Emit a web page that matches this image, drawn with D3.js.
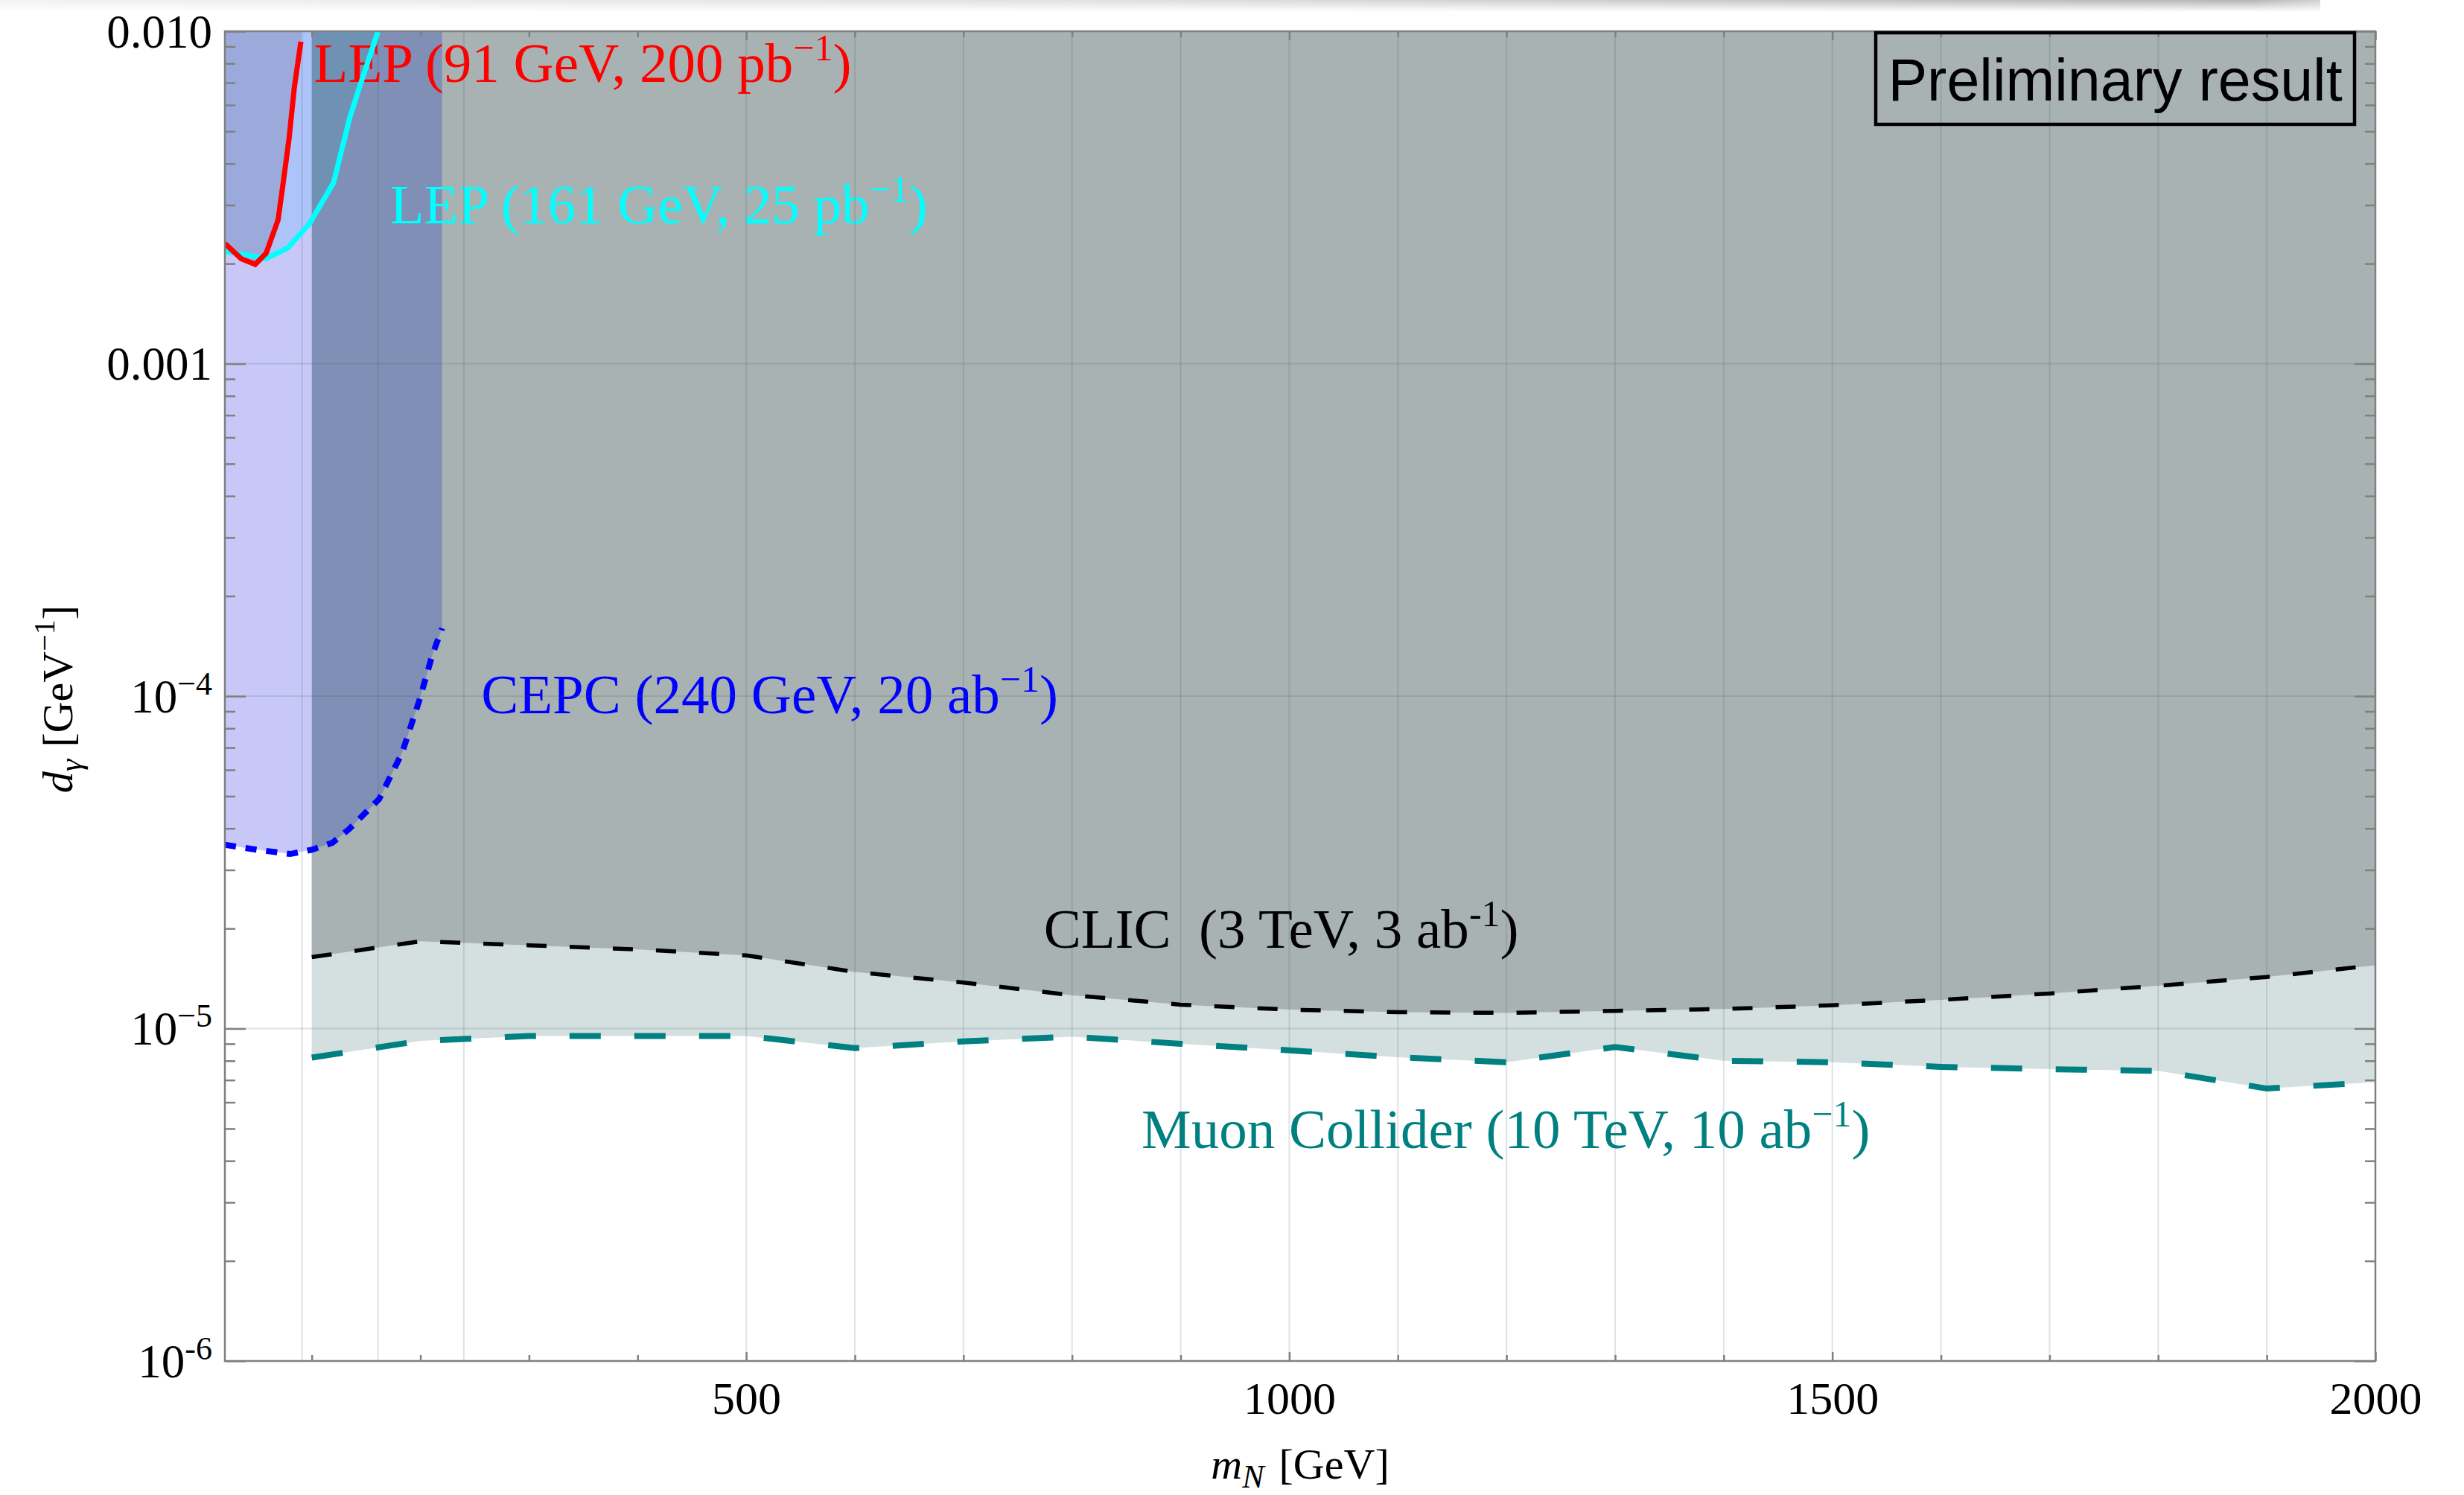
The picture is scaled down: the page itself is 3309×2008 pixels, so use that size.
<!DOCTYPE html>
<html><head><meta charset="utf-8">
<script src="https://cdn.jsdelivr.net/npm/d3@7"></script>
<style>
html,body{margin:0;padding:0;background:#fff;}
svg{display:block;}
</style></head><body>
<svg id="chart" width="3309" height="2008"></svg>
<script>
// ---------------- data ----------------
const lep91Mass  = [20, 35, 48, 58, 69, 73, 79, 84, 90];
const lep91Limit = [2.30e-3, 2.07e-3, 1.99e-3, 2.15e-3, 2.71e-3, 3.37e-3, 4.73e-3, 6.8e-3, 9.3e-3];

const lep161Mass  = [20, 58, 78, 98, 120, 135, 144, 161];
const lep161Limit = [2.18e-3, 2.07e-3, 2.23e-3, 2.64e-3, 3.5e-3, 5.5e-3, 6.8e-3, 1.0e-2];

const cepcMass  = [20, 50, 80, 100, 119, 134, 162, 183, 199, 211, 220];
const cepcLimit = [3.57e-5, 3.45e-5, 3.35e-5, 3.45e-5, 3.62e-5, 3.97e-5, 4.9e-5, 6.73e-5, 9.7e-5, 1.33e-4, 1.6e-4];

const highMass  = [100, 200, 300, 400, 500, 600, 700, 800, 900, 1000, 1100, 1200, 1300, 1400, 1500, 1600, 1700, 1800, 1900, 2000];
const clicLimit = [1.64e-5, 1.83e-5, 1.78e-5, 1.73e-5, 1.66e-5, 1.48e-5, 1.375e-5, 1.26e-5, 1.18e-5, 1.14e-5, 1.12e-5, 1.115e-5, 1.13e-5, 1.145e-5, 1.175e-5, 1.22e-5, 1.275e-5, 1.345e-5, 1.43e-5, 1.55e-5];
const muonLimit = [8.18e-6, 9.18e-6, 9.5e-6, 9.5e-6, 9.5e-6, 8.73e-6, 9.15e-6, 9.45e-6, 9.0e-6, 8.6e-6, 8.2e-6, 7.92e-6, 8.8e-6, 8.0e-6, 7.92e-6, 7.67e-6, 7.55e-6, 7.46e-6, 6.6e-6, 6.9e-6];

const xMajorTicks = [500, 1000, 1500, 2000];
const xMinorTicks = [100, 200, 300, 400, 600, 700, 800, 900, 1100, 1200, 1300, 1400, 1600, 1700, 1800, 1900];
const xGrid = [91, 161, 240, 500, 600, 700, 800, 900, 1000, 1100, 1200, 1300, 1400, 1500, 1600, 1700, 1800, 1900];
const yMajorTicks = [1e-2, 1e-3, 1e-4, 1e-5, 1e-6];
const yTickBase = ["0.010", "0.001", "10", "10", "10"];
const yTickExp  = ["", "", "\u22124", "\u22125", "-6"];
const yGrid = [1e-3, 1e-4, 1e-5];

const labelTexts = [
  {main: "LEP (91 GeV, 200 pb", sup: "\u22121", color: "#ff0000"},
  {main: "LEP (161 GeV, 25 pb", sup: "\u22121", color: "#00ffff"},
  {main: "CEPC (240 GeV, 20 ab", sup: "\u22121", color: "#0000ff"},
  {main: "CLIC  (3 TeV, 3 ab", sup: "-1", color: "#000000"},
  {main: "Muon Collider (10 TeV, 10 ab", sup: "\u22121", color: "#008080"}
];
// anchor positions (data coords) for the annotations
const labelAnchors = [[102, 7.04e-3], [172, 2.64e-3], [256, 8.88e-5], [774, 1.75e-5], [864, 4.37e-6]];

// ---------------- layout ----------------
const svg = d3.select("#chart");
const x = d3.scaleLinear().domain([20, 2000]).range([302, 3190]);
const y = d3.scaleLog().domain([1e-6, 1e-2]).range([1828, 42]);
const X0 = x.range()[0], X1 = x.range()[1], Y0 = y.range()[0], Y1 = y.range()[1];
const serif = "'Liberation Serif','Times New Roman',Times,serif";

const zip = (a, b) => a.map((v, i) => [v, b[i]]);
const lep91 = zip(lep91Mass, lep91Limit);
const lep161 = zip(lep161Mass, lep161Limit);
const cepc = zip(cepcMass, cepcLimit);
const clic = zip(highMass, clicLimit);
const muon = zip(highMass, muonLimit);

const defs = svg.append("defs");
// top screenshot shadow strip
const hg = defs.append("linearGradient").attr("id", "shadeH");
hg.append("stop").attr("offset", "0").attr("stop-color", "#f2f2f2");
hg.append("stop").attr("offset", "0.5").attr("stop-color", "#dedede");
hg.append("stop").attr("offset", "0.97").attr("stop-color", "#b4b4b4");
hg.append("stop").attr("offset", "1").attr("stop-color", "#d0d0d0");
const vg = defs.append("linearGradient").attr("id", "shadeV").attr("x1", 0).attr("y1", 0).attr("x2", 0).attr("y2", 1);
vg.append("stop").attr("offset", "0").attr("stop-color", "#fff");
vg.append("stop").attr("offset", "1").attr("stop-color", "#000");
defs.append("mask").attr("id", "shadeMask").append("rect").attr("x", 0).attr("y", 0).attr("width", 3309).attr("height", 16).attr("fill", "url(#shadeV)");
svg.append("rect").attr("x", 0).attr("y", 0).attr("width", 3116).attr("height", 16)
  .attr("fill", "url(#shadeH)").attr("mask", "url(#shadeMask)");

// clip paths split at m_N = 100 GeV
defs.append("clipPath").attr("id", "clipLeft").append("rect")
  .attr("x", X0).attr("y", Y1).attr("width", x(100) - X0).attr("height", Y0 - Y1);
defs.append("clipPath").attr("id", "clipRight").append("rect")
  .attr("x", x(100)).attr("y", Y1).attr("width", X1 - x(100)).attr("height", Y0 - Y1);
defs.append("clipPath").attr("id", "clipPlot").append("rect")
  .attr("x", X0).attr("y", Y1).attr("width", X1 - X0).attr("height", Y0 - Y1);

const areaTop = d3.area().x(d => x(d[0])).y0(Y1).y1(d => y(d[1]));
const line = d3.line().x(d => x(d[0])).y(d => y(d[1]));

const plot = svg.append("g").attr("clip-path", "url(#clipPlot)");
// filled exclusion regions
plot.append("path").datum(muon).attr("d", areaTop).attr("fill", "#d4e0e0");
plot.append("path").datum(clic).attr("d", areaTop).attr("fill", "#a8b2b2");
plot.append("path").datum(cepc).attr("d", areaTop).attr("fill", "#c8c8f8").attr("clip-path", "url(#clipLeft)");
plot.append("path").datum(cepc).attr("d", areaTop).attr("fill", "#7f8fb6").attr("clip-path", "url(#clipRight)");
plot.append("path").datum(lep161).attr("d", areaTop).attr("fill", "#acc4fa").attr("clip-path", "url(#clipLeft)");
plot.append("path").datum(lep161).attr("d", areaTop).attr("fill", "#6f91b4").attr("clip-path", "url(#clipRight)");
plot.append("path").datum(lep91).attr("d", areaTop).attr("fill", "#9caadb");

// annotation labels
labelTexts.forEach((L, i) => {
  const t = svg.append("text")
    .attr("x", x(labelAnchors[i][0])).attr("y", y(labelAnchors[i][1]))
    .attr("xml:space", "preserve").style("white-space", "pre")
    .attr("fill", L.color).style("font-family", serif).style("font-size", "75px");
  t.append("tspan").text(L.main);
  t.append("tspan").attr("dy", -29).style("font-size", "50px").text(L.sup);
  t.append("tspan").attr("dy", 29).text(")");
});

// grid lines
const grid = svg.append("g").attr("stroke", "#3c5a5a").attr("stroke-opacity", 0.17).attr("stroke-width", 2);
grid.selectAll("line.gx").data(xGrid).join("line").attr("class", "gx")
  .attr("x1", d => x(d)).attr("x2", d => x(d)).attr("y1", Y1).attr("y2", Y0);
grid.selectAll("line.gy").data(yGrid).join("line").attr("class", "gy")
  .attr("x1", X0).attr("x2", X1).attr("y1", d => y(d)).attr("y2", d => y(d));

// curves
const curves = svg.append("g").attr("clip-path", "url(#clipPlot)").attr("fill", "none");
curves.append("path").datum(muon).attr("d", line).attr("stroke", "#008080").attr("stroke-width", 8).attr("stroke-dasharray", "42,45");
curves.append("path").datum(clic).attr("d", line).attr("stroke", "#000").attr("stroke-width", 5.5).attr("stroke-dasharray", "27,31");
curves.append("path").datum(cepc).attr("d", line).attr("stroke", "#0000ff").attr("stroke-width", 8).attr("stroke-dasharray", "15,13");
curves.append("path").datum(lep161).attr("d", line).attr("stroke", "#00ffff").attr("stroke-width", 7);
curves.append("path").datum(lep91).attr("d", line).attr("stroke", "#ff0000").attr("stroke-width", 7);

// axes / ticks
const axisColor = "#808080";
function styleAxis(g) {
  g.select(".domain").remove();
  g.selectAll(".tick line").attr("stroke", axisColor).attr("stroke-width", 2.5);
}
const yMinorTicks = [];
[1e-6, 1e-5, 1e-4, 1e-3].forEach(dec => d3.range(2, 10).forEach(k => yMinorTicks.push(dec * k)));

svg.append("g").attr("transform", `translate(0,${Y0})`)
  .call(d3.axisBottom(x).tickValues(xMinorTicks).tickSize(-8).tickSizeOuter(0).tickFormat(""))
  .call(styleAxis);
const gxb = svg.append("g").attr("transform", `translate(0,${Y0})`)
  .call(d3.axisBottom(x).tickValues(xMajorTicks).tickSize(-12).tickSizeOuter(0).tickPadding(27).tickFormat(d3.format("d")))
  .call(styleAxis);
gxb.selectAll(".tick text").attr("fill", "#000").style("font-family", serif).style("font-size", "62px");
svg.append("g").attr("transform", `translate(0,${Y1})`)
  .call(d3.axisTop(x).tickValues(xMinorTicks).tickSize(-8).tickSizeOuter(0).tickFormat(""))
  .call(styleAxis);
svg.append("g").attr("transform", `translate(0,${Y1})`)
  .call(d3.axisTop(x).tickValues(xMajorTicks).tickSize(-12).tickSizeOuter(0).tickFormat(""))
  .call(styleAxis);

svg.append("g").attr("transform", `translate(${X0},0)`)
  .call(d3.axisLeft(y).tickValues(yMinorTicks).tickSize(-14).tickSizeOuter(0).tickFormat(""))
  .call(styleAxis);
const gyl = svg.append("g").attr("transform", `translate(${X0},0)`)
  .call(d3.axisLeft(y).tickValues(yMajorTicks).tickSize(-28).tickSizeOuter(0).tickFormat(""))
  .call(styleAxis);
gyl.selectAll(".tick").each(function(d, i) {
  const t = d3.select(this).append("text").attr("x", -17).attr("y", 21)
    .attr("text-anchor", "end").attr("fill", "#000")
    .style("font-family", serif).style("font-size", "63px");
  t.append("tspan").text(yTickBase[i]);
  if (yTickExp[i]) {
    t.append("tspan").attr("dy", -24).style("font-size", "44px").text(yTickExp[i]);
  }
});
svg.append("g").attr("transform", `translate(${X1},0)`)
  .call(d3.axisRight(y).tickValues(yMinorTicks).tickSize(-14).tickSizeOuter(0).tickFormat(""))
  .call(styleAxis);
svg.append("g").attr("transform", `translate(${X1},0)`)
  .call(d3.axisRight(y).tickValues(yMajorTicks).tickSize(-28).tickSizeOuter(0).tickFormat(""))
  .call(styleAxis);

// frame
svg.append("rect").attr("x", X0).attr("y", Y1).attr("width", X1 - X0).attr("height", Y0 - Y1)
  .attr("fill", "none").attr("stroke", axisColor).attr("stroke-width", 2.5);

// axis titles
const xt = svg.append("text").attr("x", (X0 + X1) / 2).attr("y", 1986)
  .attr("text-anchor", "middle").style("font-family", serif).style("font-size", "58px");
xt.append("tspan").style("font-style", "italic").text("m");
xt.append("tspan").style("font-style", "italic").style("font-size", "44px").attr("dy", 12).text("N");
xt.append("tspan").attr("dy", -12).attr("dx", 20).text("[GeV]");

const yt = svg.append("text").attr("transform", `translate(97,${(Y0 + Y1) / 2 + 4}) rotate(-90)`)
  .attr("text-anchor", "middle").style("font-family", serif).style("font-size", "58px");
yt.append("tspan").style("font-style", "italic").text("d");
yt.append("tspan").style("font-style", "italic").style("font-size", "42px").attr("dy", 12).text("\u03b3");
yt.append("tspan").attr("dy", -12).attr("dx", 16).text("[GeV");
yt.append("tspan").attr("dy", -24).style("font-size", "40px").text("\u22121");
yt.append("tspan").attr("dy", 24).text("]");

// "Preliminary result" box
const bx = X1 - 28 - 643, by = Y1 + 2;
svg.append("rect").attr("x", bx).attr("y", by).attr("width", 643).attr("height", 123)
  .attr("fill", "none").attr("stroke", "#000").attr("stroke-width", 4.5);
svg.append("text").attr("x", bx + 643 / 2).attr("y", by + 91).attr("text-anchor", "middle")
  .style("font-family", "'Liberation Sans',Arial,Helvetica,sans-serif").style("font-size", "79px")
  .text("Preliminary result");
</script>
</body></html>
